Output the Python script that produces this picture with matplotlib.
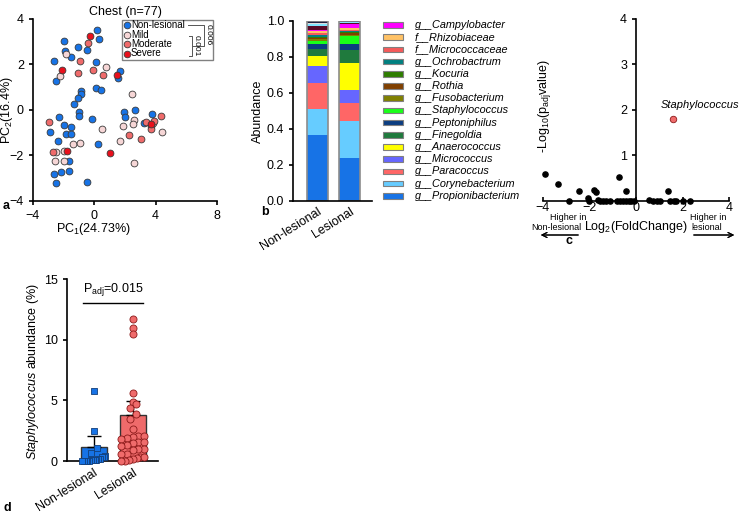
import numpy as np
import matplotlib.pyplot as plt
from matplotlib.patches import Rectangle
from matplotlib.lines import Line2D
from matplotlib.transforms import Affine2D

plt.rcParams['font.family'] = ['Liberation Sans', 'DejaVu Sans']
plt.rcParams['mathtext.fontset'] = 'custom'
plt.rcParams['mathtext.rm'] = 'Liberation Sans'
plt.rcParams['mathtext.it'] = 'Liberation Sans:italic'
plt.rcParams['font.size'] = 9
plt.rcParams['axes.linewidth'] = 1.2
plt.rcParams['xtick.major.width'] = 1.2
plt.rcParams['ytick.major.width'] = 1.2
plt.rcParams['xtick.major.size'] = 3
plt.rcParams['ytick.major.size'] = 3

# ---- panel a: PCoA, chest
nl_pc1 = [0.17, 0.28, -1.99, -1.9, -1.05, -0.46, -1.51, -2.6, 0.13, -2.49, 1.7, 1.55, 0.13, 0.44,
          -0.85, -0.85, -1.07, -1.33, -1.02, -1.02, -2.3, -0.13, 1.92, 1.97, 2.65, 3.74, 3.23,
          -2.86, -1.97, -1.53, -1.88, -1.49, -2.4, 0.26, -1.66, -1.64, -2.16, -2.62, -2.49, -0.5]
nl_pc2 = [3.52, 3.13, 3.02, 2.61, 2.75, 2.63, 2.33, 2.15, 2.12, 1.27, 1.73, 1.39, 0.97, 0.88,
          0.85, 0.72, 0.54, 0.26, -0.10, -0.28, -0.29, -0.41, -0.10, -0.31, -0.01, -0.18, -0.57,
          -0.95, -0.64, -0.73, -1.04, -1.05, -1.36, -1.49, -2.23, -2.70, -2.74, -2.81, -3.22, -3.18]
mild_pc1 = [-1.86, -2.23, 0.77, 2.47, 2.58, 2.49, 1.84, 0.53, 1.7, 4.39, 2.56, -1.38, -0.94,
            -2.47, -2.54, -1.99, -1.95, 3.85]
mild_pc2 = [2.46, 1.49, 1.88, 0.72, -0.42, -0.63, -0.72, -0.82, -1.35, -0.95, -2.35, -1.49, -1.44,
            -1.86, -2.23, -2.23, -1.82, -0.55]
mod_pc1 = [-0.44, -0.92, -1.09, -0.11, 0.59, -2.95, -2.71, 2.27, 3.06, 3.39, 4.35, 3.91, 3.67, 3.72]
mod_pc2 = [2.95, 2.15, 1.61, 1.77, 1.55, -0.53, -1.86, -1.08, -1.27, -0.54, -0.26, -0.47, -0.72, -0.84]
sev_pc1 = [-0.26, -2.1, 1.46, -1.79, 1.05, 3.7]
sev_pc2 = [3.27, 1.77, 1.55, -1.79, -1.9, -0.62]
severity = ['Non-lesional', 'Mild', 'Moderate', 'Severe']
sev_colors = ['#1773e6', '#f6d6d6', '#ef6b6b', '#e8101c']

# ---- panel b: relative abundance (bottom -> top), last four are unlabelled minor taxa
taxa = ['g__Propionibacterium', 'g__Corynebacterium', 'g__Paracoccus', 'g__Micrococcus',
        'g__Anaerococcus', 'g__Finegoldia', 'g__Peptoniphilus', 'g__Staphylococcus',
        'g__Fusobacterium', 'g__Rothia', 'g__Kocuria', 'g__Ochrobactrum',
        'f__Micrococcaceae', 'f__Rhizobiaceae', 'g__Campylobacter', '', '', '', '']
taxa_colors = ['#1773e6', '#66ccff', '#ff6666', '#6666ff', '#ffff00', '#1f7a3d', '#0b3d80',
               '#1aff1a', '#808000', '#804000', '#2e7d00', '#008080', '#f55a5a', '#ffc266',
               '#ff00ff', '#5a0a28', '#80e5ff', '#dddddd', '#222244']
ab_nonles = [0.364, 0.144, 0.147, 0.092, 0.059, 0.039, 0.028, 0.013, 0.010, 0.006, 0.008, 0.012,
             0.012, 0.010, 0.004, 0.020, 0.012, 0.010, 0.010]
ab_les = [0.237, 0.208, 0.097, 0.073, 0.148, 0.074, 0.035, 0.042, 0.006, 0.012, 0.005, 0.006,
          0.008, 0.006, 0.022, 0.008, 0.004, 0.003, 0.006]
groups = ['Non-lesional', 'Lesional']

# ---- panel c: volcano
log2fc = [-3.93, -3.36, -2.9, -2.44, -2.08, -2.03, -1.79, -1.72, -1.62, -1.55, -1.43, -1.3, -1.1,
          -0.73, -0.8, -0.68, -0.55, -0.44, -0.42, -0.3, -0.2, -0.08, 0.57, 0.74, 0.9, 1.05,
          1.36, 1.45, 1.63, 1.7, 2.0, 2.34]
neglogp = [0.60, 0.37, 0.0, 0.23, 0.07, 0.0, 0.24, 0.19, 0.02, 0.0, 0.0, 0.0, 0.0,
           0.53, 0.0, 0.0, 0.0, 0.21, 0.0, 0.0, 0.0, 0.0, 0.02, 0.0, 0.0, 0.0,
           0.22, 0.0, 0.0, 0.0, 0.0, 0.0]
staph_fc, staph_p = 1.61, 1.81

# ---- panel d: Staphylococcus abundance
staph_nonles = [5.8, 2.5, 1.05, 0.65, 0.45, 0.35, 0.3, 0.2, 0.15, 0.12, 0.1, 0.08, 0.05, 0.03,
                0.02, 0.01, 0.0, 0.0]
staph_les = [11.7, 11.0, 10.5, 5.6, 4.9, 4.7, 4.4, 3.9, 3.5, 2.6, 2.1, 2.1, 2.0, 1.9, 1.8, 1.6,
             1.6, 1.5, 1.3, 1.2, 1.0, 0.95, 0.9, 0.6, 0.55, 0.3, 0.3, 0.25, 0.2, 0.05, 0.02, 0.0]
bar_mean = [1.18, 3.77]
bar_sem = [0.91, 1.16]
p_adj = '0.015'


def swarm(vals, half=0.3, tol=0.5, step=0.15):
    vals = np.asarray(vals, float)
    order = np.argsort(vals)
    off = np.zeros(len(vals))
    i = 0
    while i < len(order):
        j = i
        while j < len(order) and vals[order[j]] - vals[order[i]] < tol:
            j += 1
        n = j - i
        st = step if n < 2 else min(step, 2 * half / (n - 1))
        off[order[i:j]] = (np.arange(n) - (n - 1) / 2) * st
        i = j
    return off


W, H = 741, 514
fig = plt.figure(figsize=(W / 100, H / 100), dpi=100)
# pixel coordinates of the image (origin top-left)
PX = Affine2D().scale(1 / W, -1 / H).translate(0, 1) + fig.transFigure


def axes_px(x0, y0, x1, y1):
    return fig.add_axes([x0 / W, 1 - y1 / H, (x1 - x0) / W, (y1 - y0) / H])


for s in ['top', 'right']:
    plt.rcParams['axes.spines.' + s] = False

# ================= a
ax = axes_px(33, 19, 217, 201)
for (x, y), c in zip([(nl_pc1, nl_pc2), (mild_pc1, mild_pc2), (mod_pc1, mod_pc2), (sev_pc1, sev_pc2)],
                     sev_colors):
    ax.scatter(x, y, s=24, color=c, edgecolor='#3a3a3a', linewidth=0.6, zorder=3, clip_on=False)
ax.set_xlim(-4, 8)
ax.set_ylim(-4, 4)
ax.set_xticks([-4, 0, 4, 8])
ax.set_yticks([-4, -2, 0, 2, 4])
ax.set_title('Chest (n=77)', fontsize=9, pad=3)
ax.set_xlabel('PC$_1$(24.73%)')
ax.xaxis.set_label_coords(0.326, -0.11)
ax.set_ylabel('PC$_2$(16.4%)')
ax.yaxis.set_label_coords(-0.10, 0.5)
# legend box with significance brackets
fig.add_artist(Rectangle((122, 20), 91, 40, transform=PX, fill=False, edgecolor='#808080', lw=1))
for k, (lab, c) in enumerate(zip(severity, sev_colors)):
    yy = 25 + 9.5 * k
    fig.add_artist(Line2D([127], [yy], transform=PX, marker='o', markersize=4.8, color=c,
                          markeredgecolor='#3a3a3a', markeredgewidth=0.6, linestyle='none'))
    fig.text(131, yy, lab, transform=PX, fontsize=7, va='center')
fig.add_artist(Line2D([188, 204, 204, 193], [25, 25, 46, 46], transform=PX, color='#555555', lw=0.7))
fig.add_artist(Line2D([189, 192, 192, 189], [36, 36, 56, 56], transform=PX, color='#555555', lw=0.7))
fig.text(196.5, 46, '0.001', transform=PX, fontsize=6, rotation=-90, va='center', ha='center')
fig.text(208.5, 35, '0.006', transform=PX, fontsize=6, rotation=-90, va='center', ha='center')

# ================= b
ax = axes_px(293, 20.7, 372, 201)
pos = np.arange(len(groups))
bottom = np.zeros(len(groups))
for name, c, a1, a2 in zip(taxa, taxa_colors, ab_nonles, ab_les):
    v = np.array([a1, a2])
    ax.bar(pos, v, 0.65, bottom=bottom, color=c, edgecolor='none', label=name)
    bottom += v
ax.bar(pos, bottom, 0.65, fill=False, edgecolor='#8c8c8c', lw=1.2)
ax.set_xlim(-0.75, 1.68)
ax.set_ylim(0, 1.0)
ax.set_yticks(np.arange(0, 1.01, 0.2))
ax.set_yticklabels(['%.1f' % t for t in np.arange(0, 1.01, 0.2)])
ax.set_xticks(pos)
ax.set_xticklabels(groups, rotation=32, ha='right', rotation_mode='anchor')
ax.tick_params(axis='x', length=0, pad=3)
ax.set_ylabel('Abundance')
ax.yaxis.set_label_coords(-0.37, 0.5)
# legend, top entry first
k = 0
for name, c in zip(taxa[::-1], taxa_colors[::-1]):
    if not name:
        continue
    yy = 25 + 12.2 * k
    fig.add_artist(Rectangle((383, yy - 2.8), 20, 5.6, transform=PX, facecolor=c,
                             edgecolor='#808080', lw=0.8))
    fig.text(415, yy, name, transform=PX, fontsize=7.8, style='italic', va='center')
    k += 1

# ================= c
ax = axes_px(543, 19, 729, 201)
ax.scatter(log2fc, neglogp, s=14, color='black', zorder=3, clip_on=False)
ax.scatter([staph_fc], [staph_p], s=22, color='#ef6b6b', edgecolor='#8b1a1a', lw=0.6, zorder=3)
ax.text(staph_fc - 0.55, staph_p + 0.24, 'Staphylococcus', style='italic', fontsize=8)
ax.spines['left'].set_position(('data', 0))
ax.set_xlim(-4, 4)
ax.set_ylim(0, 4)
ax.set_xticks([-4, -2, 0, 2, 4])
ax.set_yticks([1, 2, 3, 4])
ax.tick_params(axis='x', direction='in', length=3, pad=1)
ax.set_xlabel('Log$_2$(FoldChange)')
ax.xaxis.set_label_coords(0.5, -0.1)
ax.set_ylabel('-Log$_{10}$(p$_{\\mathrm{adj}}$value)')
ax.yaxis.set_label_coords(0.055, 0.52)
fig.text(568, 217, 'Higher in', transform=PX, fontsize=6.5, ha='center', va='center')
fig.text(581, 228, 'Non-lesional', transform=PX, fontsize=6.5, ha='right', va='center')
fig.text(690, 217.5, 'Higher in', transform=PX, fontsize=6.5, ha='left', va='center')
fig.text(691, 228, 'lesional', transform=PX, fontsize=6.5, ha='left', va='center')
fig.add_artist(plt.annotate('', xy=(538, 235), xytext=(581, 235), xycoords=PX, textcoords=PX,
                            arrowprops=dict(arrowstyle='->', lw=0.8, color='black'),
                            annotation_clip=False))
fig.add_artist(plt.annotate('', xy=(737, 235), xytext=(691, 235), xycoords=PX, textcoords=PX,
                            arrowprops=dict(arrowstyle='->', lw=0.8, color='black'),
                            annotation_clip=False))

# ================= d
ax = axes_px(66.7, 279, 158, 461)
ax.bar(pos, bar_mean, 0.67, color=['#1773e6', '#ef6b6b'], edgecolor='#333333', lw=1, zorder=1)
ax.errorbar(pos, bar_mean, yerr=[[0, 0], bar_sem], fmt='none', ecolor='black', elinewidth=1,
            capsize=5, capthick=1, zorder=2)
ax.scatter(pos[0] + swarm(staph_nonles), staph_nonles, marker='s', s=22, color='#1773e6',
           edgecolor='#123f7a', lw=0.6, zorder=3, clip_on=False)
ax.scatter(pos[1] + swarm(staph_les), staph_les, marker='o', s=26, color='#ef6b6b',
           edgecolor='#8b1a1a', lw=0.6, zorder=3, clip_on=False)
ax.plot([-0.27, 1.27], [13.0, 13.0], color='black', lw=1)
ax.text(0.5, 13.4, 'P$_{\\mathrm{adj}}$=' + p_adj, ha='center', va='bottom', fontsize=9)
ax.set_xlim(-0.69, 1.65)
ax.set_ylim(0, 15)
ax.set_yticks([0, 5, 10, 15])
ax.set_xticks(pos)
ax.set_xticklabels(groups, rotation=32, ha='right', rotation_mode='anchor')
ax.tick_params(axis='x', length=0, pad=4)
ax.set_ylabel('$\\it{Staphylococcus}$ abundance (%)')
ax.yaxis.set_label_coords(-0.28, 0.49)

# panel letters
for t, x, y in [('a', 3, 206), ('b', 261, 212), ('c', 565, 241), ('d', 3, 508)]:
    fig.text(x, y, t, transform=PX, fontsize=9, fontweight='bold', va='center')

fig.savefig('out.png', dpi=100)
